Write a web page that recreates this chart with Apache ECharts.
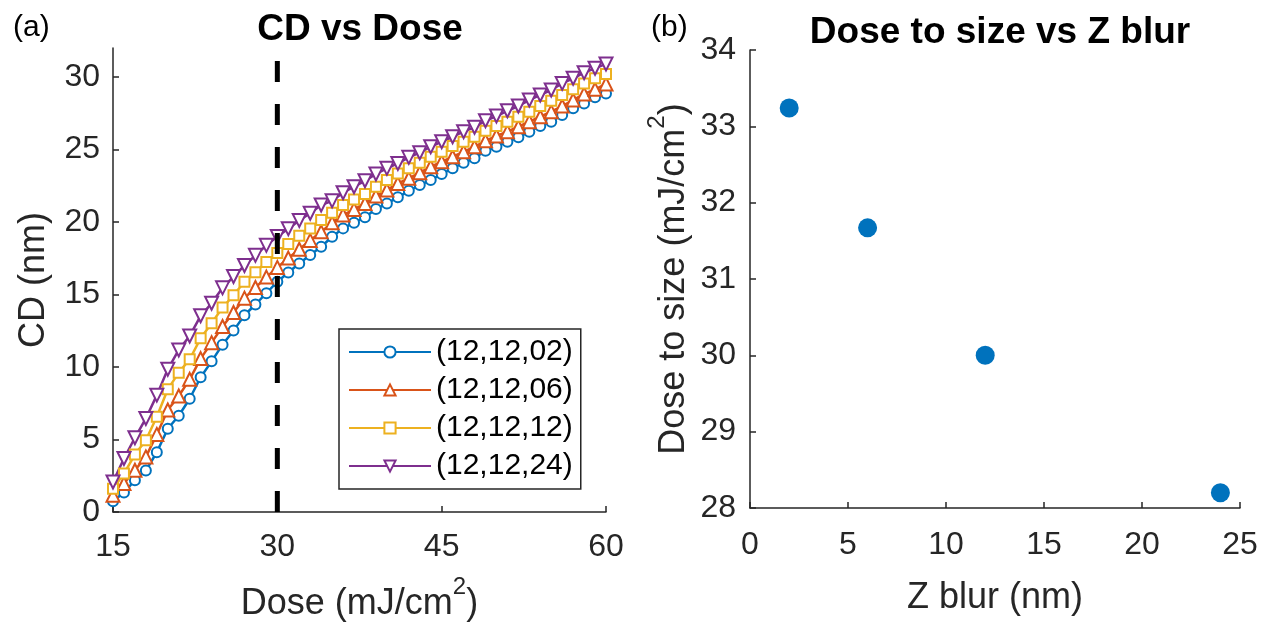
<!DOCTYPE html>
<html>
<head>
<meta charset="utf-8">
<script src="https://cdn.jsdelivr.net/npm/echarts@6/dist/echarts.min.js"></script>
<style>
html,body{margin:0;padding:0;background:#fff;}
#c{width:1270px;height:627px;}
</style>
</head>
<body>
<div id="c"></div>
<script>
// ---- data ----
var dose = [15,16,17,18,19,20,21,22,23,24,25,26,27,28,29,30,31,32,33,34,35,36,37,38,39,40,41,42,43,44,45,46,47,48,49,50,51,52,53,54,55,56,57,58,59,60];
var cd02 = [0.74,1.34,2.19,2.86,4.12,5.74,6.64,7.81,9.29,10.39,11.54,12.51,13.57,14.31,15.09,15.88,16.52,17.14,17.72,18.29,18.98,19.56,19.95,20.32,20.89,21.28,21.70,22.15,22.55,22.89,23.31,23.70,24.09,24.39,24.91,25.19,25.54,25.84,26.23,26.62,26.92,27.38,27.84,28.18,28.60,28.87];
var cd06 = [1.15,1.96,2.88,3.80,5.35,7.03,8.00,9.15,10.58,11.68,12.79,13.76,14.75,15.48,16.20,16.87,17.51,18.12,18.73,19.32,19.95,20.48,20.87,21.28,21.79,22.20,22.66,23.01,23.40,23.81,24.15,24.50,24.84,25.19,25.60,25.93,26.23,26.57,26.92,27.26,27.61,28.00,28.41,28.83,29.15,29.52];
var cd12 = [1.61,2.65,3.96,4.95,6.57,8.46,9.61,10.53,11.98,13.02,14.10,14.95,15.88,16.54,17.24,17.86,18.48,19.05,19.56,20.13,20.64,21.17,21.56,21.93,22.43,22.89,23.35,23.70,24.09,24.50,24.84,25.24,25.54,25.88,26.30,26.62,26.92,27.26,27.61,28.00,28.36,28.76,29.15,29.56,29.91,30.21];
var cd24 = [2.07,3.69,5.12,6.45,8.06,9.84,11.18,12.14,13.53,14.40,15.46,16.24,17.00,17.70,18.39,19.00,19.54,20.11,20.60,21.17,21.46,22.02,22.43,22.84,23.31,23.70,24.04,24.46,24.78,25.19,25.54,25.88,26.23,26.53,26.98,27.31,27.67,28.00,28.41,28.76,29.10,29.56,29.91,30.30,30.60,30.90];
var seriesNames = ['(12,12,02)','(12,12,06)','(12,12,12)','(12,12,24)'];
var refDose = [30];
var cdTicks = [0,5,10,15,20,25,30];
var doseTicks = [15,30,45,60];
var zBlur = [2,6,12,24];
var doseToSize = [33.24,31.67,30.00,28.20];

// ---- styles ----
var FONT = "'Liberation Sans', Arial, Helvetica, sans-serif";
var AX = '#262626';
var C = ['#0072BD','#D95319','#EDB120','#7E2F8E'];

function pairs(xs, ys){ return xs.map(function(x,i){ return [x, ys[i]]; }); }

var nameRich = {
  n: {fontSize:36, lineHeight:36, verticalAlign:'bottom', color:AX, fontFamily:FONT},
  s: {fontSize:24, lineHeight:47, verticalAlign:'top', color:AX, fontFamily:FONT}
};

var axisCommon = {
  axisLine: {show:true, lineStyle:{color:AX, width:1.5}},
  axisTick: {show:true, inside:true, length:6, lineStyle:{color:AX, width:1.5}},
  axisLabel: {color:AX, fontSize:32, fontFamily:FONT},
  splitLine: {show:false},
  nameTextStyle: {color:AX, fontSize:36, fontFamily:FONT},
  nameLocation: 'middle',
  nameMoveOverlap: false
};
function ax(o){ return echarts.util.merge(echarts.util.clone(axisCommon), o, true); }

var lineSeries = [
  {data:cd02, sym:'emptyCircle', size:10, rot:0},
  {data:cd06, sym:'emptyTriangle', size:13, rot:0},
  {data:cd12, sym:'emptyRect', size:10, rot:0},
  {data:cd24, sym:'emptyTriangle', size:13, rot:180}
].map(function(s,i){
  return {
    name: seriesNames[i], type:'line', xAxisIndex:0, yAxisIndex:0,
    data: pairs(dose, s.data),
    symbol: s.sym, symbolSize: s.size, symbolRotate: s.rot,
    showAllSymbol: true,
    lineStyle: {color:C[i], width:2.5},
    itemStyle: {color:C[i], borderColor:C[i], borderWidth:3},
    emphasis: {disabled:true},
    animation:false
  };
});

var option = {
  animation: false,
  textStyle: {fontFamily: FONT},
  title: [
    {text:'CD vs Dose', left:355, top:25, textAlign:'center', textVerticalAlign:'middle',
     textStyle:{fontSize:37, fontWeight:'bold', color:'#000', fontFamily:FONT}},
    {text:'Dose to size vs Z blur', left:995, top:28, textAlign:'center', textVerticalAlign:'middle',
     textStyle:{fontSize:37, fontWeight:'bold', color:'#000', fontFamily:FONT}},
    {text:'(a)', left:8, top:8, textStyle:{fontSize:30, fontWeight:'normal', color:'#000', fontFamily:FONT}},
    {text:'(b)', left:646, top:8, textStyle:{fontSize:30, fontWeight:'normal', color:'#000', fontFamily:FONT}}
  ],
  grid: [
    {left:113, top:48, width:493, height:464, outerBoundsMode:'none', containLabel:false},
    {left:750, top:50, width:490, height:458, outerBoundsMode:'none', containLabel:false}
  ],
  legend: {
    data: seriesNames,
    orient: 'vertical', left: 339, top: 329,
    backgroundColor: '#fff',
    borderColor: AX, borderWidth: 1.5,
    padding: [8, 8, 8, 9],
    itemWidth: 82, itemHeight: 14, itemGap: 8,
    textStyle: {fontSize: 30, color:'#000', fontFamily: FONT},
    selectedMode: false
  },
  xAxis: [
    ax({gridIndex:0, type:'value', min:15, max:60, interval:15,
        name:'{n|Dose (mJ/cm}{s|2}{n|)}', nameGap:63, nameTextStyle:{rich:nameRich},
        axisLabel:{margin:19, customValues: doseTicks}, axisTick:{customValues: doseTicks}}),
    ax({gridIndex:1, type:'value', min:0, max:25, interval:5,
        name:'Z blur (nm)', nameGap:72, axisLabel:{margin:21}})
  ],
  yAxis: [
    ax({gridIndex:0, type:'value', min:0, max:32,
        name:'CD (nm)', nameGap:61,
        axisLabel:{margin:13, customValues: cdTicks}, axisTick:{customValues: cdTicks}}),
    ax({gridIndex:1, type:'value', min:28, max:34, interval:1,
        name:'{n|Dose to size (mJ/cm}{s|2}{n|)}', nameGap:58, nameTextStyle:{rich:nameRich},
        axisLabel:{margin:14}})
  ],
  series: lineSeries.concat([
    {
      name:'ref', type:'line', xAxisIndex:0, yAxisIndex:0,
      data: [[refDose[0], 0], [refDose[0], 32]],
      symbol:'none', z: 5,
      lineStyle:{color:'#000', width:5, type:[21,22]},
      emphasis:{disabled:true}, silent:true
    },
    {
      name:'dts', type:'scatter', xAxisIndex:1, yAxisIndex:1,
      data: pairs(zBlur, doseToSize),
      symbol:'circle', symbolSize:19,
      itemStyle:{color:C[0], opacity:1},
      emphasis:{disabled:true}
    }
  ])
};

var chart = echarts.init(document.getElementById('c'), null, {renderer:'canvas'});
chart.setOption(option);
</script>
</body>
</html>
